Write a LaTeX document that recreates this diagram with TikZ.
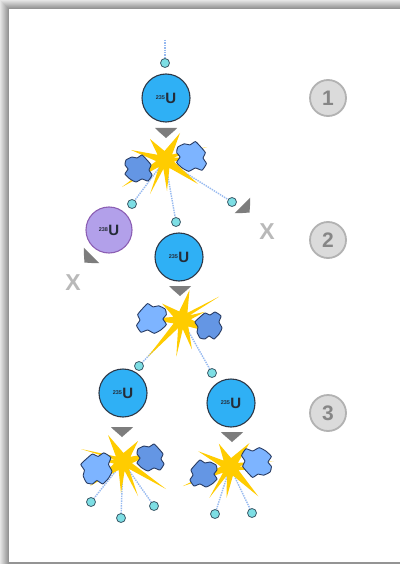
\documentclass[tikz,border=0pt]{standalone}
\usepackage{fontspec}
\setmainfont{Liberation Sans}
\usepackage{tikz}
\usetikzlibrary{calc}
\definecolor{atomblue}{RGB}{47,176,245}
\definecolor{atomedge}{RGB}{45,55,70}
\definecolor{atomlila}{RGB}{178,160,234}
\definecolor{lilaedge}{RGB}{140,95,180}
\definecolor{neutfill}{RGB}{125,222,228}
\definecolor{neutedge}{RGB}{60,90,105}
\definecolor{rayblue}{RGB}{150,185,240}
\definecolor{boomgold}{RGB}{255,204,0}
\definecolor{fraglight}{RGB}{125,180,255}
\definecolor{fragdark}{RGB}{100,150,228}
\definecolor{fragedge}{RGB}{40,60,100}
\definecolor{pushgray}{RGB}{125,125,125}
\pgfdeclarelayer{paper}
\pgfdeclarelayer{rays}
\pgfsetlayers{paper,rays,main}
\tikzset{
  atom/.style={circle, minimum size=48pt, inner sep=0pt, draw=atomedge,
               line width=1.1pt, fill=#1, text=atomedge!80!black,
               font=\bfseries\fontsize{15}{15}\selectfont},
  atom/.default=atomblue,
  neutron/.style={circle, minimum size=9pt, inner sep=0pt, fill=neutfill,
                  draw=neutedge, line width=0.8pt},
  ray/.style={rayblue, densely dotted, line width=1.4pt},
  badge/.style={circle, minimum size=36pt, inner sep=0pt, fill=gray!28,
                draw=gray!60, line width=1.8pt, text=gray!95!white,
                font=\bfseries\fontsize{21}{21}\selectfont},
  miss/.style={text=gray!55, font=\bfseries\fontsize{23}{23}\selectfont, inner sep=0pt},
  pics/boom/.style={code={
    \fill[boomgold] (42,-13) -- (7.1,-5.5) -- (15,-27) -- (-0.5,-9)
      -- (-15,-21) -- (-7.4,-5.2) -- (-34,-10) -- (-8.9,1.1) -- (-43,27)
      -- (-5.9,6.8) -- (-15,34) -- (-1.6,8.9) -- (2,31) -- (4.4,7.9)
      -- (33,24) -- (8.9,1.6) -- (24,-2) -- (8.5,-2.5) -- cycle;}},
  pics/frag/.style={code={
    \filldraw[fill=#1, draw=fragedge, line width=0.9pt]
      plot[smooth cycle, tension=0.3] coordinates {
        (-12,-9) (-6,-12) (-1,-11) (4,-14) (9,-9) (13,-4) (11,1) (14,6)
        (10,12) (4,10) (-2,13) (-8,10) (-13,5) (-10,0) (-13,-4)};}},
  pics/push/.style={code={
    \fill[pushgray] (-11,-5) -- (11,-5) -- (8,-2) -- (0,5) -- (-8,-2) -- cycle;}}
}
\newcommand{\iso}[1]{\raisebox{3.6pt}{\fontsize{5.5}{6}\selectfont#1}\kern0.3pt U}

\begin{document}
\begin{tikzpicture}[x=1pt, y=-1pt]
  \useasboundingbox (0,0) rectangle (400,564);
  % paper with a soft edge
  \begin{pgfonlayer}{paper}
    \foreach \i in {0,...,8}{
      \pgfmathtruncatemacro\g{10+4*\i}
      \fill[black!\g] (\i,\i) rectangle (400,564);
    }
    \fill[white] (9,9) rectangle (400,562);
  \end{pgfonlayer}

  % stage numbers
  \node[badge] (s1) at (328,98) {1};
  \node[badge] (s2) at (328,240) {2};
  \node[badge] (s3) at (328,413) {3};

  % nuclei
  \node[atom] (a1) at (166,98) {\iso{235}};
  \node[atom=atomlila, draw=lilaedge, minimum size=46pt] (b1) at (109,230) {\iso{238}};
  \node[atom] (a2) at (179,257) {\iso{235}};
  \node[atom] (a3) at (123,393) {\iso{235}};
  \node[atom] (a4) at (231,403) {\iso{235}};

  % fission points
  \coordinate (e1) at (165,160);
  \coordinate (e2) at (182,320);
  \coordinate (e3) at (123,462);
  \coordinate (e4) at (230,467);
  \coordinate (src) at (165,40);

  % explosions with their two fragments
  \pic at (e1) {boom};
  \pic at ($(e1)+(-27,9)$) {frag=fragdark};
  \pic[scale=1.1] at ($(e1)+(26,-3)$) {frag=fraglight};

  \pic[rotate=15] at (e2) {boom};
  \pic[scale=1.1, xscale=-1] at ($(e2)+(-30,-1)$) {frag=fraglight};
  \pic[rotate=90] at ($(e2)+(27,6)$) {frag=fragdark};

  \pic[xscale=-1] at (e3) {boom};
  \pic[scale=1.15, rotate=90] at ($(e3)+(-26,7)$) {frag=fraglight};
  \pic at ($(e3)+(27,-4)$) {frag=fragdark};

  \pic[rotate=-10] at (e4) {boom};
  \pic[xscale=-1] at ($(e4)+(-26,7)$) {frag=fragdark};
  \pic[scale=1.1, rotate=180] at ($(e4)+(27,-5)$) {frag=fraglight};

  % neutrons
  \node[neutron] (n0) at (165,63) {};
  \node[neutron] (n1) at (132,204) {};
  \node[neutron] (n2) at (176,222) {};
  \node[neutron] (n3) at (232,202) {};
  \node[neutron] (n4) at (139,366) {};
  \node[neutron] (n5) at (212,373) {};
  \node[neutron] (n6) at (91,502) {};
  \node[neutron] (n7) at (121,518) {};
  \node[neutron] (n8) at (154,506) {};
  \node[neutron] (n9) at (215,514) {};
  \node[neutron] (n10) at (252,513) {};

  % neutron paths, kept behind the blasts
  \begin{pgfonlayer}{rays}
    \draw[ray] (src) -- (n0);
    \foreach \n in {n1,n2,n3} \draw[ray] (e1) -- (\n);
    \foreach \n in {n4,n5} \draw[ray] (e2) -- (\n);
    \foreach \n in {n6,n7,n8} \draw[ray] (e3) -- (\n);
    \foreach \n in {n9,n10} \draw[ray] (e4) -- (\n);
  \end{pgfonlayer}

  % grey push arrows
  \pic at (166,133) {push};
  \pic at (180,291) {push};
  \pic at (122,432) {push};
  \pic at (232,437) {push};
  \pic[rotate=45] at (246,209) {push};
  \pic[rotate=-45] at (88,259) {push};

  % lost neutrons
  \node[miss] (x1) at (267,232) {X};
  \node[miss] (x2) at (73,283) {X};
\end{tikzpicture}
\end{document}
